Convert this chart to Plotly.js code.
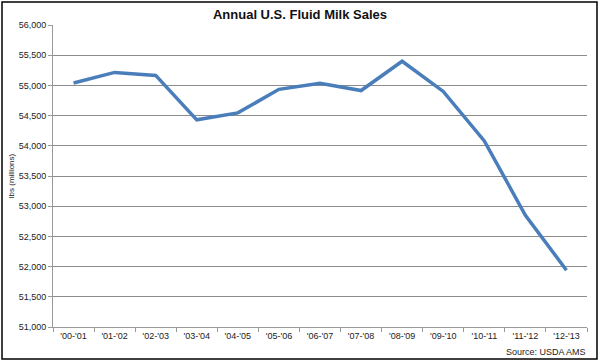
<!DOCTYPE html>
<html><head><meta charset="utf-8">
<script src="https://cdn.plot.ly/plotly-3.0.1.min.js"></script>
<style>html,body{margin:0;padding:0;background:#fff}#c{width:600px;height:362px}</style>
</head><body><div id="c"></div>
<script>
const years = ["'00-'01","'01-'02","'02-'03","'03-'04","'04-'05","'05-'06","'06-'07","'07-'08","'08-'09","'09-'10","'10-'11","'11-'12","'12-'13"];
const sales = [55040, 55215, 55165, 54430, 54545, 54935, 55035, 54915, 55400, 54900, 54080, 52850, 51940];

const L = 53, R = 13, T = 25, B = 35, W = 600, H = 362;
const pw = W - L - R, ph = H - T - B;
const px = x => (x - L) / pw;
const py = y => (H - B - y) / ph;

Plotly.newPlot('c', [{
  x: years, y: sales, type: 'scatter', mode: 'lines',
  line: {color: '#4a7ebb', width: 3.5},
  hoverinfo: 'skip'
}], {
  width: W, height: H,
  margin: {l: L, r: R, t: T, b: B},
  paper_bgcolor: '#fff', plot_bgcolor: '#fff',
  showlegend: false,
  font: {family: 'Liberation Sans, Arial, sans-serif', size: 9, color: '#222'},
  title: {text: '<b>Annual U.S. Fluid Milk Sales</b>', font: {size: 13, color: '#111'}, x: 0.5, xanchor: 'center', y: 1 - 14/H, yanchor: 'middle'},
  xaxis: {
    type: 'category', tickson: 'boundaries', ticks: 'outside', ticklen: 4, tickcolor: '#999',
    showline: true, linecolor: '#999', linewidth: 1, showgrid: false, zeroline: false,
    tickfont: {size: 9, color: '#222'}, range: [-0.5, 12.5]
  },
  yaxis: {
    range: [51000, 56000], dtick: 500, tickformat: ',d', ticks: 'outside', ticklen: 4, tickcolor: '#999',
    showline: true, linecolor: '#999', linewidth: 1, gridcolor: '#8c8c8c', gridwidth: 1, zeroline: false,
    tickfont: {size: 9, color: '#222'},
    title: {text: 'lbs (millions)', font: {size: 8, color: '#222'}, standoff: 2}
  },
  shapes: [{type: 'rect', xref: 'paper', yref: 'paper', x0: px(2), x1: px(597), y0: py(359), y1: py(2), line: {color: '#000', width: 1.5}, layer: 'below'}],
  annotations: [{text: 'Source: USDA AMS', xref: 'paper', yref: 'paper', x: px(588), y: py(352), xanchor: 'right', yanchor: 'middle', showarrow: false, font: {size: 9, color: '#222'}}]
}, {displayModeBar: false, staticPlot: true});
</script></body></html>
